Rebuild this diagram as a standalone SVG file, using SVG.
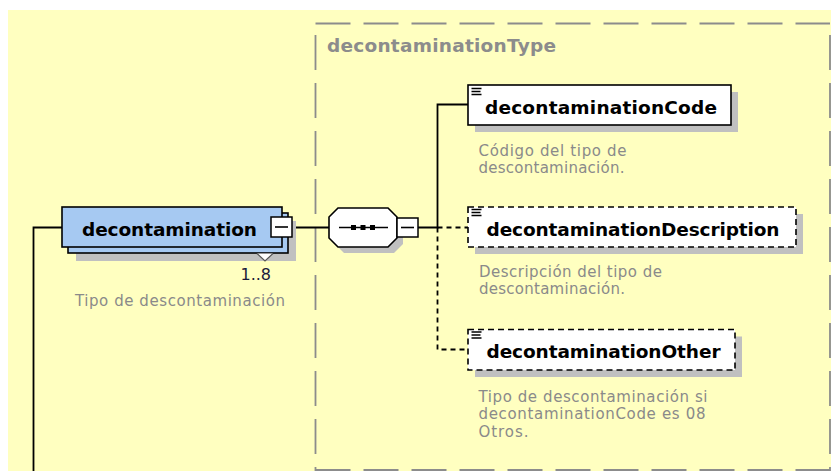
<svg xmlns="http://www.w3.org/2000/svg" width="831" height="471" viewBox="0 0 831 471">
<style>
.bg{fill:#FFFFC0}
.typebox{fill:none;stroke:#8C8C8C;stroke-width:1.8;stroke-dasharray:35 13}
.typelabel{font-family:"DejaVu Sans",Verdana,sans-serif;font-weight:bold;font-size:18.5px;fill:#8C8C8C}
.conn{fill:none;stroke:#000;stroke-width:1.8}
.conn-opt{fill:none;stroke:#000;stroke-width:1.8;stroke-dasharray:5 4}
.shadow{fill:#C0C0C0;stroke:none}
.elem{fill:#A6C9F2;stroke:#000;stroke-width:1.6}
.child{fill:#fff;stroke:#000;stroke-width:1.6}
.child-opt{fill:#fff;stroke:#000;stroke-width:1.6;stroke-dasharray:6 4}
.name{font-family:"DejaVu Sans",Verdana,sans-serif;font-weight:bold;font-size:18.5px;fill:#000}
.doc{font-family:"DejaVu Sans",Verdana,sans-serif;font-size:15px;fill:#8A8A8A}
.occ{font-family:"DejaVu Sans",Verdana,sans-serif;font-size:16px;fill:#1A1A3A}
.btn{fill:#fff;stroke:#000;stroke-width:1.5}
.icon{stroke:#000;stroke-width:1.4}
</style>
<rect class="bg" x="8" y="10" width="823" height="461"/>

<g id="decontaminationType">
  <path class="typebox" d="M315.5,23.5 H830"/>
  <path class="typebox" d="M315.5,35 V471"/>
  <path class="typebox" d="M830,35 V471"/>
  <path class="typebox" d="M315.5,470 H830"/>
  <text class="typelabel" x="327" y="52" textLength="229">decontaminationType</text>
</g>

<g id="connectors">
  <path class="conn" d="M33.5,471 V227.5 H62"/>
  <path class="conn" d="M292,227.5 H329"/>
  <path class="conn" d="M418,227.5 H437.5 V104.5 H468"/>
  <path class="conn-opt" d="M437.5,227.5 H468"/>
  <path class="conn-opt" d="M437.5,227.5 V349.5 H468"/>
</g>

<g id="decontamination">
  <rect class="shadow" x="76" y="221" width="220" height="40"/>
  <rect class="elem" x="68" y="213" width="220" height="40"/>
  <rect class="elem" x="62" y="207" width="220" height="40"/>
  <path d="M257,253.5 L265,261 L273,253.5" fill="#fff" stroke="#555" stroke-width="1.2"/>
  <rect class="btn" x="271" y="217" width="21" height="20"/>
  <path d="M275,227 H288" stroke="#000" stroke-width="1.6"/>
  <text class="name" x="82" y="235.5" textLength="175">decontamination</text>
  <text class="occ" x="271" y="280" text-anchor="end">1..8</text>
  <text class="doc" x="75" y="306" textLength="210">Tipo de descontaminación</text>
</g>

<g id="sequence">
  <polygon class="shadow" points="344,215 394,215 403,224 403,244 394,253 344,253 335,244 335,224"/>
  <polygon class="child" points="338,208 388,208 397,217 397,238 388,247 338,247 329,238 329,217"/>
  <path d="M339,227.5 H388" stroke="#000" stroke-width="1.5"/>
  <rect x="351" y="225" width="5" height="5" fill="#000"/>
  <rect x="360.5" y="225" width="5" height="5" fill="#000"/>
  <rect x="370" y="225" width="5" height="5" fill="#000"/>
  <rect class="btn" x="397" y="218" width="21" height="19"/>
  <path d="M401,227.5 H414" stroke="#000" stroke-width="1.6"/>
</g>

<g id="decontaminationCode">
  <rect class="shadow" x="475" y="92" width="263" height="40"/>
  <rect class="child" x="468" y="85" width="263" height="40"/>
  <path class="icon" d="M471.5,88.5 H481.5 M471.5,91.5 H480.5 M471.5,94.5 H481.5"/>
  <text class="name" x="485" y="113.5" textLength="232">decontaminationCode</text>
  <text class="doc" x="478.5" y="155.5" textLength="148">Código del tipo de</text>
  <text class="doc" x="478.5" y="173" textLength="146">descontaminación.</text>
</g>

<g id="decontaminationDescription">
  <rect class="shadow" x="475" y="214" width="328" height="40"/>
  <rect class="child-opt" x="468" y="207" width="328" height="40"/>
  <path class="icon" d="M471.5,209.5 H481.5 M471.5,212.5 H480.5 M471.5,215.5 H481.5"/>
  <text class="name" x="486.5" y="235.5" textLength="293">decontaminationDescription</text>
  <text class="doc" x="479" y="276.5" textLength="183">Descripción del tipo de</text>
  <text class="doc" x="479" y="294" textLength="146">descontaminación.</text>
</g>

<g id="decontaminationOther">
  <rect class="shadow" x="475" y="336.5" width="267" height="40.5"/>
  <rect class="child-opt" x="468" y="329.5" width="267" height="40.5"/>
  <path class="icon" d="M471.5,332 H481.5 M471.5,335 H480.5 M471.5,338 H481.5"/>
  <text class="name" x="486.5" y="358" textLength="234">decontaminationOther</text>
  <text class="doc" x="478.5" y="401.5" textLength="229">Tipo de descontaminación si</text>
  <text class="doc" x="478.5" y="419" textLength="227">decontaminationCode es 08</text>
  <text class="doc" x="478.5" y="436.5" textLength="50">Otros.</text>
</g>
</svg>
